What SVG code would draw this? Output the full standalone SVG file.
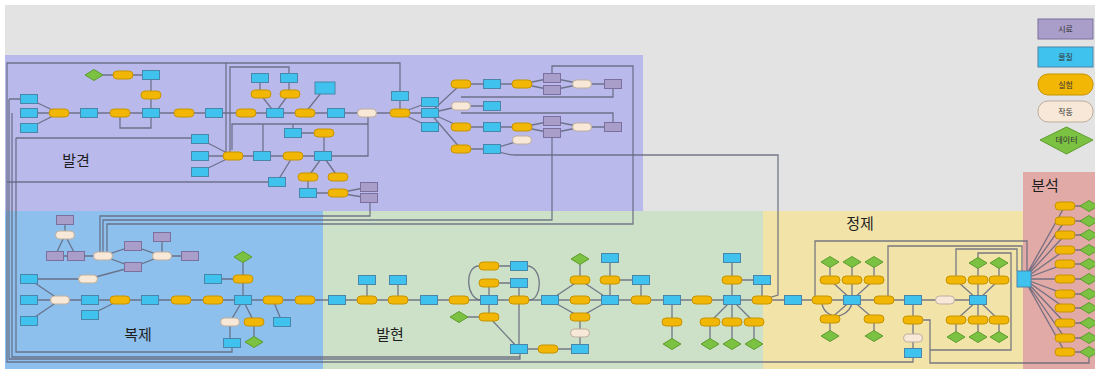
<svg xmlns="http://www.w3.org/2000/svg" xmlns:xlink="http://www.w3.org/1999/xlink" width="1095" height="369" viewBox="0 0 1095 369">
<style>
.c{fill:#3fc2ee;stroke:#4a86aa;stroke-width:1}
.p{fill:#a99dc9;stroke:#7a6f9d;stroke-width:1}
.y{fill:#f2b705;stroke:#c79400;stroke-width:1}
.k{fill:#f7e8d8;stroke:#bfae9e;stroke-width:1}
.g{fill:#7cc242;stroke:#5d9c2e;stroke-width:1}
#edges path{fill:none;stroke:#62657a;stroke-width:1.3;stroke-opacity:0.85}
.lab{font-family:"Noto Sans CJK KR","Noto Sans",sans-serif;font-size:15px;fill:#1e1e1e}
.leg{font-family:"Noto Sans CJK KR","Noto Sans",sans-serif;font-size:8px;fill:#333;text-anchor:middle}
</style>
<defs>
<rect id="cy" class="c" x="-8.5" y="-4.5" width="17" height="9"/>
<rect id="pu" class="p" x="-8.5" y="-4.5" width="17" height="9"/>
<rect id="ye" class="y" x="-10" y="-4" width="20" height="8" rx="4"/>
<rect id="cr" class="k" x="-9.5" y="-4" width="19" height="8" rx="4"/>
<polygon id="gr" class="g" points="-9,0 0,-5.5 9,0 0,5.5"/>
</defs>
<rect x="0" y="0" width="1095" height="369" fill="#ffffff"/>
<rect x="5" y="5" width="1090" height="364" fill="#e3e3e3"/>
<g id="regions">
<rect x="5" y="55" width="638" height="156" fill="#b9b9ec"/>
<rect x="5" y="211" width="318" height="158" fill="#8dc0ec"/>
<rect x="323" y="211" width="440" height="158" fill="#cde0c8"/>
<rect x="763" y="211" width="260" height="158" fill="#f2e3a9"/>
<rect x="1023" y="172" width="72" height="197" fill="#e2aaa6"/>
<text class="lab" x="76" y="166" text-anchor="middle">발견</text>
<text class="lab" x="138" y="340" text-anchor="middle">복제</text>
<text class="lab" x="390" y="340" text-anchor="middle">발현</text>
<text class="lab" x="860" y="229" text-anchor="middle">정제</text>
<text class="lab" x="1045" y="191" text-anchor="middle">분석</text>
</g>
<g id="legend">
<g id="leg-sample"><rect class="p" x="1038" y="19" width="55" height="20"/><text class="leg" x="1065.5" y="32">시료</text></g>
<g id="leg-material"><rect class="c" x="1038" y="47" width="55" height="20"/><text class="leg" x="1065.5" y="60">물질</text></g>
<g id="leg-experiment"><rect class="y" x="1038" y="74" width="55" height="21" rx="10"/><text class="leg" x="1065.5" y="87.5">실험</text></g>
<g id="leg-operation"><rect class="k" x="1038" y="101" width="55" height="21" rx="10"/><text class="leg" x="1065.5" y="114.5">작동</text></g>
<g id="leg-data"><polygon class="g" points="1040,140 1066.5,127 1093,140 1066.5,154"/><text class="leg" x="1066.5" y="143">데이터</text></g>
</g>
<g id="edges">
<path d="M94 75H151V113"/>
<path d="M29 99L59 113M29 113H430M29 128L59 113"/>
<path d="M120 113V128H151V113"/>
<path d="M400 113V63H7V362H913V353"/>
<path d="M7 182H277L293 156"/>
<path d="M9 99H29M9 99V359H520V349"/>
<path d="M12 113V357H520"/>
<path d="M16 138H200M16 138V352H232V343"/>
<path d="M400 113L430 102M400 113L430 127"/>
<path d="M260 78V94L275 113M289 78V94L275 113"/>
<path d="M230 156V67H289V78M226 156V63"/>
<path d="M325 88L305 113"/>
<path d="M232 150V124H368M263 124V156M293 124V133H324V156"/>
<path d="M368 113V156H323"/>
<path d="M200 139L233 156M200 156H323M200 172L233 156"/>
<path d="M323 156L308 177V193H338M323 156L338 177"/>
<path d="M338 193L369 187M338 193L369 198"/>
<path d="M370 198V216H100V256"/>
<path d="M430 113L461 84M430 113L461 106M430 113L461 127M430 113L461 149"/>
<path d="M461 84H522L552 78L582 84H613M522 84L552 90L582 84"/>
<path d="M613 84V97H461M613 127V113H461M461 106H492"/>
<path d="M461 127H522L552 121L582 127H613M522 127L552 133L582 127"/>
<path d="M461 149H492L522 140M492 149Q504 155 516 155H778V295L762 300"/>
<path d="M552 78V66H633V224H107V256"/>
<path d="M552 133V220H103V256"/>
<path d="M65 220V235L55 256M65 235L76 256M55 256H103"/>
<path d="M103 256L133 246L162 256M103 256L133 267L162 256M162 237V256H190"/>
<path d="M133 267L88 279H29"/>
<path d="M29 279L60 300M29 300H489M29 321L60 300M90 315L120 300"/>
<path d="M243 300V257M213 279H243M273 300L282 322"/>
<path d="M243 300L230 322V343M243 300L254 322V342"/>
<path d="M367 300V280M398 300V280"/>
<path d="M481 300C466 300 464 266 479 266H519M489 300V283H519M527 266C543 266 543 300 529 300M519 283V300"/>
<path d="M489 300H978"/>
<path d="M489 300V317H459M489 317L519 349H580V317M519 300V349"/>
<path d="M550 300L580 280L610 300M550 300L580 317L610 300M580 280V259"/>
<path d="M610 300V258M610 280H641V300"/>
<path d="M672 300V344"/>
<path d="M732 300V258M732 280H762V300"/>
<path d="M732 300L710 322V344M732 300V344M732 300L754 322V344"/>
<path d="M852 300L830 280V262M852 300V262M852 300L874 280V262M852 300L830 319V336M852 300L874 319V336"/>
<path d="M822 304C826 320 846 320 852 304"/>
<path d="M913 300V353M913 320H930V363H1089V352M930 350H1011V253H978V263"/>
<path d="M815 296V241H1027V271M888 300V246H1022V271M956 280V249H1017V271"/>
<path d="M978 300L956 280M978 300V263M978 300L999 280V263M978 300L956 320V337M978 300V337M978 300L999 320V337"/>
<path d="M1024 279L1065 206H1089M1024 279L1065 221H1089M1024 279L1065 235H1089M1024 279L1065 250H1089M1024 279L1065 264H1089M1024 279H1089M1024 279L1065 294H1089M1024 279L1065 308H1089M1024 279L1065 323H1089M1024 279L1065 338H1089M1024 279L1065 352H1089"/>
</g>
<g id="nodes">
<g id="d1"><use href="#gr" x="94" y="75"/></g>
<g id="d2"><use href="#ye" x="123" y="75"/></g>
<g id="d3"><use href="#cy" x="151" y="75"/></g>
<g id="d4"><use href="#ye" x="151" y="95"/></g>
<g id="d5"><use href="#cy" x="29" y="99"/></g>
<g id="d6"><use href="#cy" x="29" y="113"/></g>
<g id="d7"><use href="#cy" x="29" y="128"/></g>
<g id="d8"><use href="#ye" x="59" y="113"/></g>
<g id="d9"><use href="#cy" x="89" y="113"/></g>
<g id="d10"><use href="#ye" x="120" y="113"/></g>
<g id="d11"><use href="#cy" x="151" y="113"/></g>
<g id="d12"><use href="#ye" x="184" y="113"/></g>
<g id="d13"><use href="#cy" x="214" y="113"/></g>
<g id="d14"><use href="#ye" x="246" y="113"/></g>
<g id="d15"><use href="#cy" x="275" y="113"/></g>
<g id="d16"><use href="#ye" x="305" y="113"/></g>
<g id="d17"><use href="#cy" x="336" y="113"/></g>
<g id="d18"><use href="#cr" x="367" y="113"/></g>
<g id="d19"><use href="#ye" x="400" y="113"/></g>
<g id="d20"><use href="#cy" x="400" y="96"/></g>
<g id="d21"><use href="#cy" x="430" y="102"/></g>
<g id="d22"><use href="#cy" x="430" y="113"/></g>
<g id="d23"><use href="#cy" x="430" y="127"/></g>
<g id="d24"><use href="#cy" x="260" y="78"/></g>
<g id="d25"><use href="#cy" x="289" y="78"/></g>
<g id="d26"><use href="#ye" x="261" y="94"/></g>
<g id="d27"><use href="#ye" x="290" y="94"/></g>
<g id="d28"><rect class="c" x="315" y="82" width="20" height="12"/></g>
<g id="d29"><use href="#cy" x="293" y="133"/></g>
<g id="d30"><use href="#ye" x="324" y="133"/></g>
<g id="d31"><use href="#cy" x="200" y="139"/></g>
<g id="d32"><use href="#cy" x="200" y="156"/></g>
<g id="d33"><use href="#cy" x="200" y="172"/></g>
<g id="d34"><use href="#ye" x="233" y="156"/></g>
<g id="d35"><use href="#cy" x="262" y="156"/></g>
<g id="d36"><use href="#ye" x="293" y="156"/></g>
<g id="d37"><use href="#cy" x="323" y="156"/></g>
<g id="d38"><use href="#cy" x="277" y="182"/></g>
<g id="d39"><use href="#ye" x="308" y="177"/></g>
<g id="d40"><use href="#ye" x="338" y="177"/></g>
<g id="d41"><use href="#cy" x="308" y="193"/></g>
<g id="d42"><use href="#ye" x="338" y="193"/></g>
<g id="d43"><use href="#pu" x="369" y="187"/></g>
<g id="d44"><use href="#pu" x="369" y="198"/></g>
<g id="d45"><use href="#ye" x="461" y="84"/></g>
<g id="d46"><use href="#cy" x="492" y="84"/></g>
<g id="d47"><use href="#ye" x="522" y="84"/></g>
<g id="d48"><use href="#pu" x="552" y="78"/></g>
<g id="d49"><use href="#pu" x="552" y="90"/></g>
<g id="d50"><use href="#cr" x="582" y="84"/></g>
<g id="d51"><use href="#pu" x="613" y="84"/></g>
<g id="d52"><use href="#cr" x="461" y="106"/></g>
<g id="d53"><use href="#cy" x="492" y="106"/></g>
<g id="d54"><use href="#ye" x="461" y="127"/></g>
<g id="d55"><use href="#cy" x="492" y="127"/></g>
<g id="d56"><use href="#ye" x="522" y="127"/></g>
<g id="d57"><use href="#pu" x="552" y="121"/></g>
<g id="d58"><use href="#pu" x="552" y="133"/></g>
<g id="d59"><use href="#cr" x="582" y="127"/></g>
<g id="d60"><use href="#pu" x="613" y="127"/></g>
<g id="d61"><use href="#ye" x="461" y="149"/></g>
<g id="d62"><use href="#cy" x="492" y="149"/></g>
<g id="d63"><use href="#cr" x="522" y="140"/></g>
<g id="r1"><use href="#pu" x="65" y="220"/></g>
<g id="r2"><use href="#cr" x="65" y="235"/></g>
<g id="r3"><use href="#pu" x="55" y="256"/></g>
<g id="r4"><use href="#pu" x="76" y="256"/></g>
<g id="r5"><use href="#cr" x="103" y="256"/></g>
<g id="r6"><use href="#pu" x="133" y="246"/></g>
<g id="r7"><use href="#pu" x="133" y="267"/></g>
<g id="r8"><use href="#pu" x="162" y="237"/></g>
<g id="r9"><use href="#cr" x="162" y="256"/></g>
<g id="r10"><use href="#pu" x="190" y="256"/></g>
<g id="r11"><use href="#cr" x="88" y="279"/></g>
<g id="r12"><use href="#cy" x="29" y="279"/></g>
<g id="r13"><use href="#cy" x="29" y="300"/></g>
<g id="r14"><use href="#cy" x="29" y="321"/></g>
<g id="r15"><use href="#cr" x="60" y="300"/></g>
<g id="r16"><use href="#cy" x="90" y="300"/></g>
<g id="r17"><use href="#cy" x="90" y="315"/></g>
<g id="r18"><use href="#ye" x="120" y="300"/></g>
<g id="r19"><use href="#cy" x="150" y="300"/></g>
<g id="r20"><use href="#ye" x="181" y="300"/></g>
<g id="r21"><use href="#ye" x="213" y="300"/></g>
<g id="r22"><use href="#cy" x="243" y="300"/></g>
<g id="r23"><use href="#gr" x="243" y="257"/></g>
<g id="r24"><use href="#ye" x="243" y="279"/></g>
<g id="r25"><use href="#cy" x="213" y="279"/></g>
<g id="r26"><use href="#ye" x="273" y="300"/></g>
<g id="r27"><use href="#cy" x="282" y="322"/></g>
<g id="r28"><use href="#ye" x="305" y="300"/></g>
<g id="r29"><use href="#cr" x="230" y="322"/></g>
<g id="r30"><use href="#ye" x="254" y="322"/></g>
<g id="r31"><use href="#gr" x="254" y="342"/></g>
<g id="r32"><use href="#cy" x="232" y="343"/></g>
<g id="e1"><use href="#cy" x="337" y="300"/></g>
<g id="e2"><use href="#ye" x="367" y="300"/></g>
<g id="e3"><use href="#cy" x="367" y="280"/></g>
<g id="e4"><use href="#ye" x="398" y="300"/></g>
<g id="e5"><use href="#cy" x="398" y="280"/></g>
<g id="e6"><use href="#cy" x="429" y="300"/></g>
<g id="e7"><use href="#ye" x="459" y="300"/></g>
<g id="e8"><use href="#cy" x="489" y="300"/></g>
<g id="e9"><use href="#ye" x="489" y="266"/></g>
<g id="e10"><use href="#cy" x="519" y="266"/></g>
<g id="e11"><use href="#ye" x="489" y="283"/></g>
<g id="e12"><use href="#cy" x="519" y="283"/></g>
<g id="e13"><use href="#ye" x="519" y="300"/></g>
<g id="e14"><use href="#ye" x="489" y="317"/></g>
<g id="e15"><use href="#gr" x="459" y="317"/></g>
<g id="e16"><use href="#cy" x="519" y="349"/></g>
<g id="e17"><use href="#ye" x="548" y="349"/></g>
<g id="e18"><use href="#cy" x="580" y="349"/></g>
<g id="e19"><use href="#cr" x="580" y="333"/></g>
<g id="e20"><use href="#ye" x="580" y="317"/></g>
<g id="e21"><use href="#cy" x="550" y="300"/></g>
<g id="e22"><use href="#ye" x="580" y="300"/></g>
<g id="e23"><use href="#ye" x="580" y="280"/></g>
<g id="e24"><use href="#gr" x="580" y="259"/></g>
<g id="e25"><use href="#cy" x="610" y="300"/></g>
<g id="e26"><use href="#ye" x="610" y="280"/></g>
<g id="e27"><use href="#cy" x="610" y="258"/></g>
<g id="e28"><use href="#cy" x="641" y="280"/></g>
<g id="e29"><use href="#ye" x="641" y="300"/></g>
<g id="e30"><use href="#cy" x="672" y="300"/></g>
<g id="e31"><use href="#ye" x="672" y="322"/></g>
<g id="e32"><use href="#gr" x="672" y="344"/></g>
<g id="e33"><use href="#ye" x="702" y="300"/></g>
<g id="e34"><use href="#cy" x="732" y="300"/></g>
<g id="e35"><use href="#ye" x="732" y="280"/></g>
<g id="e36"><use href="#cy" x="732" y="258"/></g>
<g id="e37"><use href="#cy" x="762" y="280"/></g>
<g id="e38"><use href="#ye" x="762" y="300"/></g>
<g id="e39"><use href="#ye" x="710" y="322"/></g>
<g id="e40"><use href="#ye" x="732" y="322"/></g>
<g id="e41"><use href="#ye" x="754" y="322"/></g>
<g id="e42"><use href="#gr" x="710" y="344"/></g>
<g id="e43"><use href="#gr" x="732" y="344"/></g>
<g id="e44"><use href="#gr" x="754" y="344"/></g>
<g id="p1"><use href="#cy" x="793" y="300"/></g>
<g id="p2"><use href="#ye" x="822" y="300"/></g>
<g id="p3"><use href="#cy" x="852" y="300"/></g>
<g id="p4"><use href="#ye" x="830" y="280"/></g>
<g id="p5"><use href="#ye" x="852" y="280"/></g>
<g id="p6"><use href="#ye" x="874" y="280"/></g>
<g id="p7"><use href="#gr" x="830" y="262"/></g>
<g id="p8"><use href="#gr" x="852" y="262"/></g>
<g id="p9"><use href="#gr" x="874" y="262"/></g>
<g id="p10"><use href="#ye" x="830" y="319"/></g>
<g id="p11"><use href="#ye" x="874" y="319"/></g>
<g id="p12"><use href="#gr" x="830" y="336"/></g>
<g id="p13"><use href="#gr" x="874" y="336"/></g>
<g id="p14"><use href="#ye" x="884" y="300"/></g>
<g id="p15"><use href="#cy" x="913" y="300"/></g>
<g id="p16"><use href="#ye" x="913" y="320"/></g>
<g id="p17"><use href="#cr" x="913" y="338"/></g>
<g id="p18"><use href="#cy" x="913" y="353"/></g>
<g id="p19"><use href="#cr" x="945" y="300"/></g>
<g id="p20"><use href="#cy" x="978" y="300"/></g>
<g id="p21"><use href="#ye" x="956" y="280"/></g>
<g id="p22"><use href="#ye" x="978" y="280"/></g>
<g id="p23"><use href="#ye" x="999" y="280"/></g>
<g id="p24"><use href="#gr" x="978" y="263"/></g>
<g id="p25"><use href="#gr" x="999" y="263"/></g>
<g id="p26"><use href="#ye" x="956" y="320"/></g>
<g id="p27"><use href="#ye" x="978" y="320"/></g>
<g id="p28"><use href="#ye" x="999" y="320"/></g>
<g id="p29"><use href="#gr" x="956" y="337"/></g>
<g id="p30"><use href="#gr" x="978" y="337"/></g>
<g id="p31"><use href="#gr" x="999" y="337"/></g>
<g id="a0"><rect class="c" x="1017" y="271" width="14" height="16"/></g>
<g id="a1"><use href="#ye" x="1065" y="206"/><use href="#gr" x="1089" y="206"/></g>
<g id="a2"><use href="#ye" x="1065" y="221"/><use href="#gr" x="1089" y="221"/></g>
<g id="a3"><use href="#ye" x="1065" y="235"/><use href="#gr" x="1089" y="235"/></g>
<g id="a4"><use href="#ye" x="1065" y="250"/><use href="#gr" x="1089" y="250"/></g>
<g id="a5"><use href="#ye" x="1065" y="264"/><use href="#gr" x="1089" y="264"/></g>
<g id="a6"><use href="#ye" x="1065" y="279"/><use href="#gr" x="1089" y="279"/></g>
<g id="a7"><use href="#ye" x="1065" y="294"/><use href="#gr" x="1089" y="294"/></g>
<g id="a8"><use href="#ye" x="1065" y="308"/><use href="#gr" x="1089" y="308"/></g>
<g id="a9"><use href="#ye" x="1065" y="323"/><use href="#gr" x="1089" y="323"/></g>
<g id="a10"><use href="#ye" x="1065" y="338"/><use href="#gr" x="1089" y="338"/></g>
<g id="a11"><use href="#ye" x="1065" y="352"/><use href="#gr" x="1089" y="352"/></g>
</g>
</svg>
